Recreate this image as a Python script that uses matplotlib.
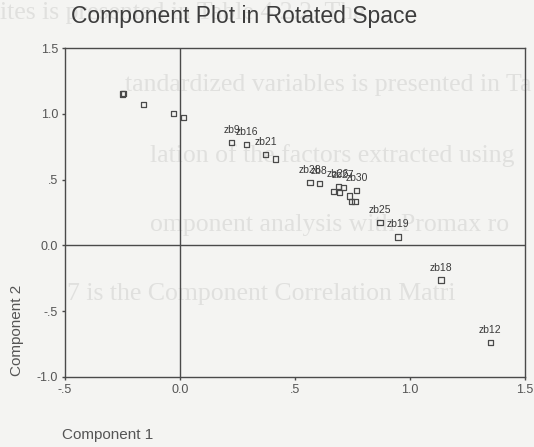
import numpy as np
import matplotlib
matplotlib.use("Agg")
import matplotlib.pyplot as plt

# loadings on the two rotated components
comp1 = [-0.250, -0.246, -0.158, -0.029, 0.017, 0.225, 0.290, 0.373, 0.416,
         0.565, 0.606, 0.667, 0.693, 0.688, 0.710, 0.736, 0.747, 0.761,
         0.768, 0.870, 0.948, 1.135, 1.350]
comp2 = [1.150, 1.154, 1.069, 1.001, 0.970, 0.783, 0.768, 0.692, 0.657,
         0.476, 0.472, 0.408, 0.400, 0.446, 0.441, 0.375, 0.332, 0.332,
         0.416, 0.172, 0.064, -0.263, -0.739]
names = ["", "", "", "", "", "zb9", "zb16", "zb21", "",
         "zb28", "zb8", "", "", "zb26", "zb27", "", "", "",
         "zb30", "zb25", "zb19", "zb18", "zb12"]

xticks = [-0.5, 0.0, 0.5, 1.0, 1.5]
xticklabels = ["-.5", "0.0", ".5", "1.0", "1.5"]
yticks = [-1.0, -0.5, 0.0, 0.5, 1.0, 1.5]
yticklabels = ["-1.0", "-.5", "0.0", ".5", "1.0", "1.5"]

# faint text showing through from the other side of the page
ghost_lines = [
    (0.00, 0.972, "ites is presented in Table 4.2.2. The"),
    (0.235, 0.810, "tandardized variables is presented in Ta"),
    (0.280, 0.652, "lation of the factors extracted using"),
    (0.280, 0.497, "omponent analysis with Promax ro"),
    (0.125, 0.342, "7 is the Component Correlation Matri"),
]

bg = "#f4f4f2"
ink = "#4a4a4a"
plt.rcParams["font.family"] = ["Liberation Sans", "DejaVu Sans"]

fig = plt.figure(figsize=(5.34, 4.47), dpi=100, facecolor=bg)
for gx, gy, txt in ghost_lines:
    fig.text(gx, gy, txt, fontsize=18.5, family="Liberation Serif",
             color="#e0e0de", va="center", ha="left", zorder=-1)

ax = fig.add_axes([0.1217, 0.1566, 0.8613, 0.736])
ax.patch.set_alpha(0)

ax.axvline(0, color=ink, lw=1.0, zorder=1)
ax.axhline(0, color=ink, lw=1.0, zorder=1)

ax.scatter(comp1, comp2, marker="s", s=14, facecolors="none",
           edgecolors=ink, linewidths=0.9, zorder=3)
for x, y, n in zip(comp1, comp2, names):
    if n:
        ax.annotate(n, (x, y), xytext=(0, 9), textcoords="offset points",
                    ha="center", va="center", fontsize=7.5, color="#3a3a3a")

ax.set_xlim(-0.5, 1.5)
ax.set_ylim(-1.0, 1.5)
ax.set_xticks(xticks)
ax.set_xticklabels(xticklabels)
ax.set_yticks(yticks)
ax.set_yticklabels(yticklabels)
ax.tick_params(length=2, width=1, color=ink, labelcolor="#555555",
               labelsize=9, pad=3)
for sp in ax.spines.values():
    sp.set_color(ink)
    sp.set_linewidth(1.0)

fig.text(0.458, 0.962, "Component Plot in Rotated Space", fontsize=16.5,
         color="#3c3c3c", ha="center", va="center")
fig.text(0.117, 0.027, "Component 1", fontsize=11, color="#555555",
         ha="left", va="center")
fig.text(0.032, 0.158, "Component 2", fontsize=11, color="#555555",
         ha="center", va="bottom", rotation=90)

fig.savefig("out.png", dpi=100, facecolor=bg)
